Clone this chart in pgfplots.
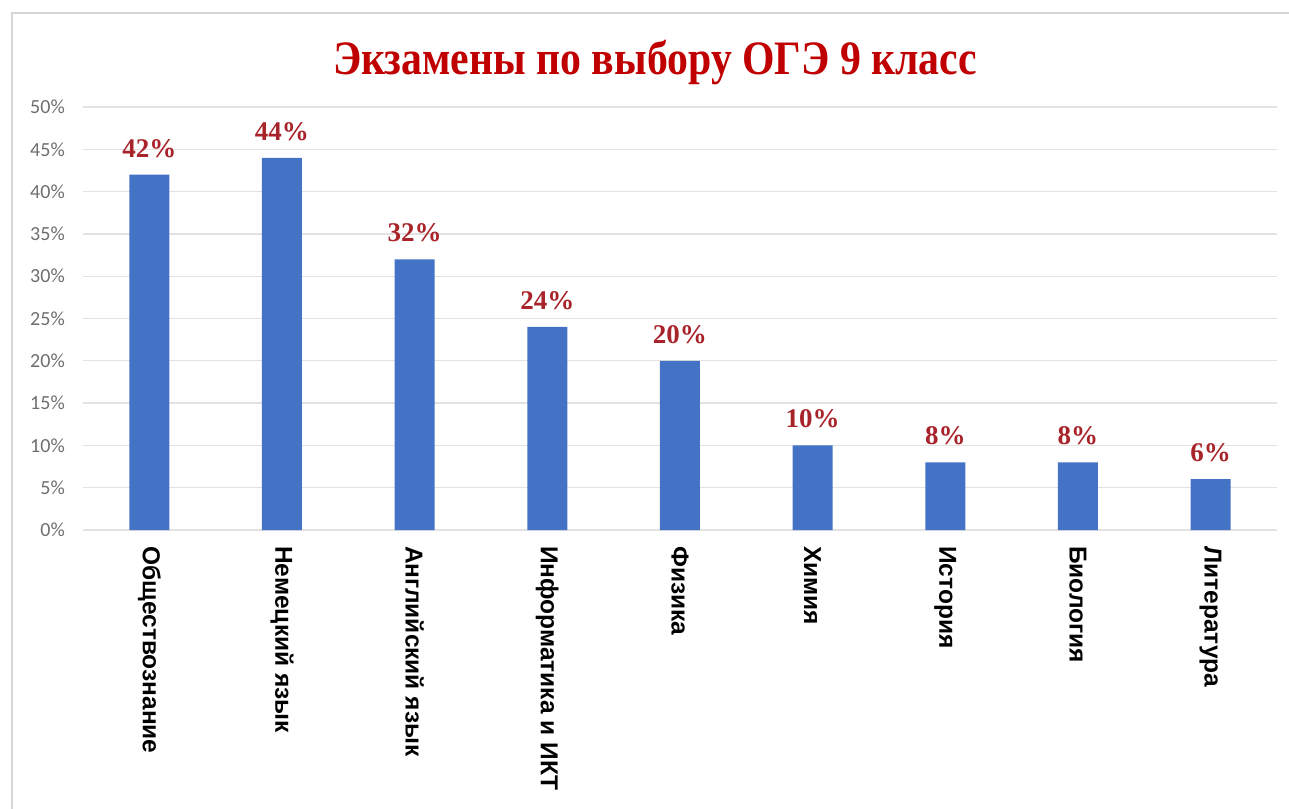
\documentclass[border=0pt]{standalone}
\usepackage{fontspec}
\setmainfont{Liberation Serif}
\newfontfamily\titlefont[FakeStretch=0.87]{Liberation Serif}
\newfontfamily\tickfont{Carlito}
\newfontfamily\catfont{Liberation Sans}
\usepackage{pgfplots}
\pgfplotsset{compat=1.18}
\definecolor{barblue}{HTML}{4472C4}
\definecolor{titlered}{HTML}{C00000}
\definecolor{labred}{HTML}{A8232A}
\definecolor{tickgray}{HTML}{6E6E6E}
\definecolor{gridgray}{HTML}{E2E2E2}
\definecolor{framegray}{HTML}{D6D6D6}

\begin{document}
\begin{tikzpicture}
% page = 1289 x 808 px, 1px = 1pt; axis box lower left at (0,0)
\path[use as bounding box] (-83pt,-278pt) rectangle (1206pt,530pt);
\draw[framegray, line width=1.5pt] (-71pt,-300pt) -- (-71pt,517pt) -- (1230pt,517pt);

\begin{axis}[
  at={(0pt,0pt)}, anchor=south west,
  width=1194pt, height=423pt, scale only axis,
  xmin=-0.5, xmax=8.5, ymin=0, ymax=50,
  axis line style={draw=none},
  major tick length=0pt,
  ymajorgrids, grid style={gridgray, line width=1.3pt},
  ytick={0,5,...,50},
  yticklabel={\pgfmathprintnumber{\tick}\%},
  /pgf/number format/assume math mode=true,
  yticklabel style={tickgray, font=\tickfont\fontsize{20}{20}\selectfont,
    anchor=east, inner sep=0pt, xshift=-18pt},
  xtick={0,...,8},
  xticklabels={Обществознание, Немецкий язык, Английский язык,
    Информатика и ИКТ, Физика, Химия, История, Биология, Литература},
  xticklabel style={font=\catfont\bfseries\fontsize{24.5}{24.5}\selectfont,
    rotate=-90, anchor=west, inner ysep=0pt, inner xsep=16pt},
  nodes near coords={\pgfmathprintnumber{\pgfplotspointmeta}\%},
  every node near coord/.append style={labred,
    font=\bfseries\fontsize{27}{27}\selectfont,
    anchor=south, inner sep=0pt, yshift=17pt},
]
\addplot[ybar, bar width=40pt, fill=barblue, draw=none] coordinates {
  (0,42) (1,44) (2,32) (3,24) (4,20) (5,10) (6,8) (7,8) (8,6)
};
\end{axis}

\node[titlered, font=\titlefont\bfseries\fontsize{48}{48}\selectfont,
  anchor=base] at (572pt,455pt) {Экзамены по выбору ОГЭ 9 класс};
\end{tikzpicture}
\end{document}
